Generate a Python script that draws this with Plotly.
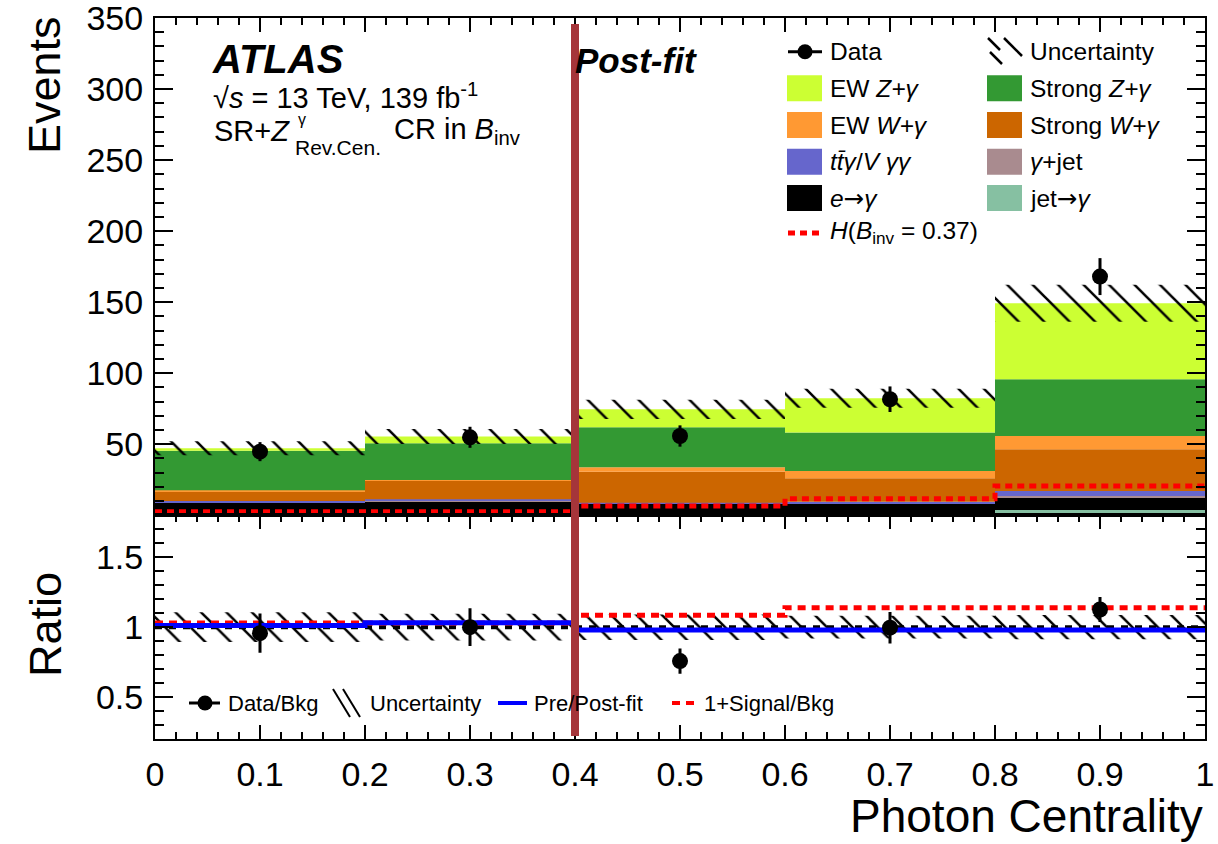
import numpy as np
import plotly.graph_objects as go

# ---------------- data ----------------
bin_edges = [0.0, 0.2, 0.4, 0.6, 0.8, 1.0]
tick_vals_x = [0, 0.1, 0.2, 0.3, 0.4, 0.5, 0.6, 0.7, 0.8, 0.9, 1.0]

jet_to_gamma = [0.5, 0.5, 0.5, 0.5, 3.7]
e_to_gamma = [8.4, 9.1, 7.5, 7.5, 9.0]
gamma_jet = [0.2, 0.7, 0.3, 0.3, 0.9]
ttgamma_vgg = [1.0, 1.0, 0.6, 1.3, 3.5]
strong_w = [6.5, 13.1, 21.8, 16.5, 29.4]
ew_w = [1.0, 0.5, 3.1, 5.1, 9.3]
strong_z = [27.9, 25.8, 28.2, 27.0, 40.0]
ew_z = [1.7, 4.7, 12.6, 24.2, 53.5]

bkg_unc = [5.0, 5.3, 6.8, 6.7, 13.0]
data_vals = [44.8, 54.9, 55.8, 81.7, 168.0]
data_err = [6.7, 7.4, 7.5, 9.0, 13.0]
signal_vals = [2.5, 2.5, 6.5, 11.7, 20.6]

ratio_data = [0.957, 1.0, 0.757, 0.996, 1.126]
ratio_err = [0.14, 0.135, 0.09, 0.113, 0.09]
prepost_ratio = [1.012, 1.031, 0.98, 0.98, 0.98]
signal_ratio = [1.029, 1.03, 1.086, 1.139, 1.139]

# ---------------- styling ----------------
FONT = "Liberation Sans, Arial, Helvetica, sans-serif"
ARROW = '<span style="font-family:DejaVu Sans">→</span>'
components = [
    ("jet→γ", jet_to_gamma, "#86c0a2"),
    ("e→γ", e_to_gamma, "#000000"),
    ("γ+jet", gamma_jet, "#a98b8f"),
    ("ttγ/Vγγ", ttgamma_vgg, "#6666cc"),
    ("Strong W+γ", strong_w, "#cc6600"),
    ("EW W+γ", ew_w, "#ff9933"),
    ("Strong Z+γ", strong_z, "#339933"),
    ("EW Z+γ", ew_z, "#ccff33"),
]

edges = np.array(bin_edges)
centers = (edges[:-1] + edges[1:]) / 2
widths = edges[1:] - edges[:-1]

W, H = 1218, 844
ML, MR, MT, MB = 155, 13, 18, 105
PW, PH = W - ML - MR, H - MT - MB
SPLIT = (H - MB - 515.3) / PH


def px(x):
    return (x - ML) / PW


def py(y):
    return (H - MB - y) / PH


def step(vals):
    return list(edges), list(vals) + [vals[-1]]


fig = go.Figure()

# stacked background
base = np.zeros(len(centers))
for name, vals, col in components:
    v = np.array(vals, dtype=float)
    fig.add_trace(go.Bar(x=centers, y=v, base=base, width=widths, marker_color=col,
                         marker_line_width=0, name=name, showlegend=False,
                         xaxis="x", yaxis="y"))
    base = base + v
total = base

# uncertainty hatch main
unc = np.array(bkg_unc)
hatch = dict(shape="\\", fgcolor="#000000", fgopacity=1, bgcolor="rgba(0,0,0,0)",
             size=18, solidity=0.14)
fig.add_trace(go.Bar(x=centers, y=2 * unc, base=total - unc, width=widths,
                     marker=dict(color="rgba(255,255,255,0)", line_width=0, pattern=hatch),
                     showlegend=False, xaxis="x", yaxis="y"))

# signal dashed step
sx, sy = step(signal_vals)
fig.add_trace(go.Scatter(x=sx, y=sy, mode="lines", line_shape="hv",
                         line=dict(color="#ff0000", width=5, dash="7px,5px"),
                         showlegend=False, xaxis="x", yaxis="y"))

# data
fig.add_trace(go.Scatter(x=centers, y=data_vals, mode="markers",
                         marker=dict(color="black", size=16),
                         error_y=dict(type="data", array=data_err, color="black",
                                      thickness=3, width=0),
                         showlegend=False, xaxis="x", yaxis="y"))

# ---------------- ratio panel ----------------
rel = unc / total
fig.add_trace(go.Bar(x=centers, y=2 * rel, base=1 - rel, width=widths,
                     marker=dict(color="rgba(255,255,255,0)", line_width=0, pattern=hatch),
                     showlegend=False, xaxis="x2", yaxis="y2"))
fig.add_trace(go.Scatter(x=[edges[0], edges[-1]], y=[1, 1], mode="lines",
                         line=dict(color="black", width=4, dash="7px,7px"),
                         showlegend=False, xaxis="x2", yaxis="y2"))
rx, ry = step(signal_ratio)
fig.add_trace(go.Scatter(x=rx, y=ry, mode="lines", line_shape="hv",
                         line=dict(color="#ff0000", width=5, dash="8px,6px"),
                         showlegend=False, xaxis="x2", yaxis="y2"))
bx, by = step(prepost_ratio)
fig.add_trace(go.Scatter(x=bx, y=by, mode="lines", line_shape="hv",
                         line=dict(color="#0000ff", width=5),
                         showlegend=False, xaxis="x2", yaxis="y2"))
fig.add_trace(go.Scatter(x=centers, y=ratio_data, mode="markers",
                         marker=dict(color="black", size=16),
                         error_y=dict(type="data", array=ratio_err, color="black",
                                      thickness=3, width=0),
                         showlegend=False, xaxis="x2", yaxis="y2"))

# ---------------- axes ----------------
axis_common = dict(showgrid=False, zeroline=False, showline=True, linecolor="black",
                   linewidth=2, tickcolor="black", tickwidth=2, ticks="inside",
                   automargin=False, ticklabeloverflow="allow",
                   tickfont=dict(family=FONT, size=34, color="black"))

fig.update_layout(
    width=W, height=H, margin=dict(l=ML, r=MR, t=MT, b=MB, autoexpand=False),
    paper_bgcolor="white", plot_bgcolor="white", barmode="overlay",
    showlegend=False,
    xaxis=dict(axis_common, domain=[0, 1], range=[0, 1], anchor="y", side="top",
               mirror=True, showticklabels=False, tickmode="array", tickvals=tick_vals_x,
               ticklen=14, minor=dict(ticks="inside", tickmode="linear", tick0=0, dtick=0.02,
                                      ticklen=7, tickcolor="black", tickwidth=2)),
    yaxis=dict(axis_common, domain=[SPLIT, 1], range=[0, 350.01], anchor="x",
               mirror="allticks", tickmode="array", tickvals=[50, 100, 150, 200, 250, 300, 350],
               ticklen=18, ticklabelstandoff=3,
               minor=dict(ticks="inside", tickmode="linear", tick0=0, dtick=10,
                          ticklen=9, tickcolor="black", tickwidth=2)),
    xaxis2=dict(axis_common, domain=[0, 1], range=[0, 1], anchor="y2", mirror="allticks",
                tickmode="array", tickvals=tick_vals_x,
                ticktext=[("%g" % v) for v in tick_vals_x],
                ticklen=14, ticklabelstandoff=4,
                minor=dict(ticks="inside", tickmode="linear", tick0=0, dtick=0.02,
                           ticklen=7, tickcolor="black", tickwidth=2)),
    yaxis2=dict(axis_common, domain=[0, SPLIT], range=[0.2, 1.8], anchor="x2",
                mirror="allticks", tickmode="array", tickvals=[0.5, 1, 1.5],
                ticktext=["0.5", "1", "1.5"], ticklen=18, ticklabelstandoff=3,
                minor=dict(ticks="inside", tickmode="linear", tick0=0, dtick=0.1,
                           ticklen=9, tickcolor="black", tickwidth=2)),
)

ann = []
shapes = []


def text(x, y, s, size, xanchor="left", angle=0, pad=1):
    ann.append(dict(xref="paper", yref="paper", x=px(x), y=py(y), text=s,
                    showarrow=False, xanchor=xanchor, yanchor="middle", textangle=angle,
                    borderpad=pad,
                    font=dict(family=FONT, size=size, color="black")))


# axis titles
text(45, 85, "Events", 45, xanchor="center", angle=-90)
text(45, 625, "Ratio", 45, xanchor="center", angle=-90)
text(1205, 816, "Photon Centrality", 46, xanchor="right")

# ATLAS labels
text(210, 59, "<b><i>ATLAS</i></b>", 40)
text(212, 96, "√<i>s</i> = 13 TeV, 139 fb<sup>-1</sup>", 29, pad=0)
text(212, 131, "SR+<i>Z</i>", 29)
text(297, 119, "γ", 16, pad=0)
text(293, 147, "Rev.Cen.", 21)
text(392, 131, "CR in <i>B</i><sub>inv</sub>", 29)
text(573, 61, "<b><i>Post-fit</i></b>", 35)

# main legend
LF = 24.5
rows = [51.7, 88.3, 125, 161.7, 198, 233]
c1b, c1t = 787, 828
c2b, c2t = 987, 1028
# Data
shapes.append(dict(type="line", xref="paper", yref="paper", x0=px(788), x1=px(822),
                   y0=py(rows[0]), y1=py(rows[0]), line=dict(color="black", width=3)))
shapes.append(dict(type="circle", xref="paper", yref="paper", x0=px(797.5), x1=px(812.5),
                   y0=py(rows[0] + 7.5), y1=py(rows[0] - 7.5), fillcolor="black",
                   line=dict(color="black", width=0)))
text(c1t, rows[0], "Data", LF)
# Uncertainty symbol
for (xa, ya, xb, yb) in [(988, 38, 1000, 50), (990, 52, 1002, 64), (1004, 38, 1022, 56)]:
    shapes.append(dict(type="line", xref="paper", yref="paper", x0=px(xa), x1=px(xb),
                       y0=py(ya), y1=py(yb), line=dict(color="black", width=2.5)))
text(c2t, rows[0], "Uncertainty", LF)

legend_boxes = [
    (c1b, c1t, rows[1], "#ccff33", "EW <i>Z+γ</i>"),
    (c2b, c2t, rows[1], "#339933", "Strong <i>Z+γ</i>"),
    (c1b, c1t, rows[2], "#ff9933", "EW <i>W+γ</i>"),
    (c2b, c2t, rows[2], "#cc6600", "Strong <i>W+γ</i>"),
    (c1b, c1t, rows[3], "#6666cc", "<i>tt̄γ</i>/<i>V γγ</i>"),
    (c2b, c2t, rows[3], "#a98b8f", "<i>γ</i>+jet"),
    (c1b, c1t, rows[4], "#000000", "<i>e</i>" + ARROW + "<i>γ</i>"),
    (c2b, c2t, rows[4], "#86c0a2", "jet" + ARROW + "<i>γ</i>"),
]
for bx0, tx, yc, col, lab in legend_boxes:
    shapes.append(dict(type="rect", xref="paper", yref="paper", x0=px(bx0), x1=px(bx0 + 35),
                       y0=py(yc + 13), y1=py(yc - 13), fillcolor=col, line=dict(width=0)))
    text(tx, yc, lab, LF)
shapes.append(dict(type="line", xref="paper", yref="paper", x0=px(788), x1=px(822),
                   y0=py(rows[5]), y1=py(rows[5]),
                   line=dict(color="#ff0000", width=5, dash="7px,5px")))
text(c1t, rows[5], "<i>H</i>(<i>B</i><sub>inv</sub> = 0.37)", LF)

# ratio legend
RY = 703
RF = 22
shapes.append(dict(type="line", xref="paper", yref="paper", x0=px(189), x1=px(220),
                   y0=py(RY), y1=py(RY), line=dict(color="black", width=3)))
shapes.append(dict(type="circle", xref="paper", yref="paper", x0=px(197.5), x1=px(212.5),
                   y0=py(RY + 7.5), y1=py(RY - 7.5), fillcolor="black",
                   line=dict(color="black", width=0)))
text(226, RY, "Data/Bkg", RF)
for dx in (0, 10):
    shapes.append(dict(type="line", xref="paper", yref="paper", x0=px(333 + dx),
                       x1=px(350 + dx), y0=py(RY - 14), y1=py(RY + 14),
                       line=dict(color="black", width=2)))
text(368, RY, "Uncertainty", RF)
shapes.append(dict(type="line", xref="paper", yref="paper", x0=px(498), x1=px(527),
                   y0=py(RY), y1=py(RY), line=dict(color="#0000ff", width=4)))
text(532, RY, "Pre/Post-fit", RF)
shapes.append(dict(type="line", xref="paper", yref="paper", x0=px(672), x1=px(696),
                   y0=py(RY), y1=py(RY), line=dict(color="#ff0000", width=4, dash="8px,6px")))
text(702, RY, "1+Signal/Bkg", RF)

# vertical line at 0.4
shapes.append(dict(type="line", xref="x", yref="paper", x0=bin_edges[2], x1=bin_edges[2],
                   y0=py(736), y1=py(24), line=dict(color="#a5353a", width=8), layer="above"))

fig.update_layout(annotations=ann, shapes=shapes)
fig.write_html("out.html", config={"displayModeBar": False},
               post_script="document.body.style.margin='0';document.body.style.padding='0';")
